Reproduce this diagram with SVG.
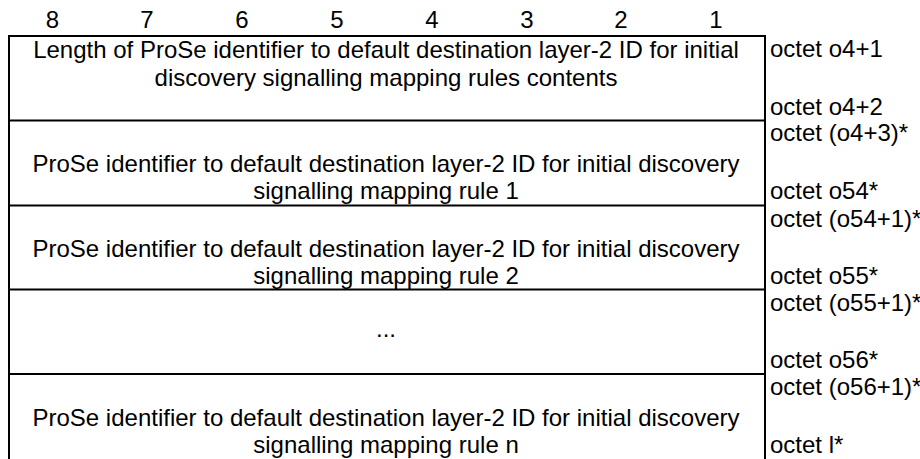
<svg xmlns="http://www.w3.org/2000/svg" width="920" height="459" viewBox="0 0 920 459">
<style>
text{font-family:"Liberation Sans",Arial,sans-serif;font-size:24px;fill:#000}
.c{text-anchor:middle}
.ln{stroke:#000;stroke-width:2;fill:none}
</style>
<rect width="920" height="459" fill="#fff"/>
<g id="header">
<text class="c" x="52.5" y="28">8</text>
<text class="c" x="147" y="28">7</text>
<text class="c" x="242" y="28">6</text>
<text class="c" x="337" y="28">5</text>
<text class="c" x="432" y="28">4</text>
<text class="c" x="527" y="28">3</text>
<text class="c" x="621" y="28">2</text>
<text class="c" x="716" y="28">1</text>
</g>
<g id="connectors">
<path class="ln" d="M9 36H765M9 120.5H765M9 205.5H765M9 289.5H765M9 374H765M9 35V459M765 35V459"/>
</g>
<g id="row1">
<text class="c" x="386" y="58">Length of ProSe identifier to default destination layer-2 ID for initial</text>
<text class="c" x="386" y="86">discovery signalling mapping rules contents</text>
<text x="770" y="57">octet o4+1</text>
<text x="770" y="115">octet o4+2</text>
</g>
<g id="row2">
<text class="c" x="386" y="172">ProSe identifier to default destination layer-2 ID for initial discovery</text>
<text class="c" x="386" y="198.5">signalling mapping rule 1</text>
<text x="770" y="141">octet (o4+3)*</text>
<text x="770" y="198.5">octet o54*</text>
</g>
<g id="row3">
<text class="c" x="386" y="257">ProSe identifier to default destination layer-2 ID for initial discovery</text>
<text class="c" x="386" y="283.5">signalling mapping rule 2</text>
<text x="770" y="226.5">octet (o54+1)*</text>
<text x="770" y="283.5">octet o55*</text>
</g>
<g id="row4">
<text class="c" x="386" y="337">...</text>
<text x="770" y="310.5">octet (o55+1)*</text>
<text x="770" y="367.5">octet o56*</text>
</g>
<g id="row5">
<text class="c" x="386" y="426">ProSe identifier to default destination layer-2 ID for initial discovery</text>
<text class="c" x="386" y="453">signalling mapping rule n</text>
<text x="770" y="395">octet (o56+1)*</text>
<text x="770" y="453">octet l*</text>
</g>
</svg>
